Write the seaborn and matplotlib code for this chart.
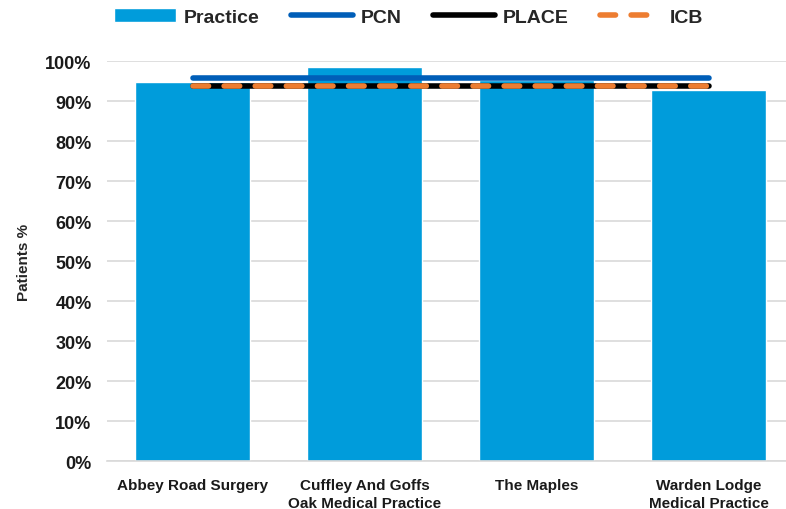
import numpy as np
import pandas as pd
import matplotlib
matplotlib.use("Agg")
import matplotlib.pyplot as plt
import seaborn as sns
from matplotlib.patches import Patch
from matplotlib.lines import Line2D
from matplotlib.ticker import PercentFormatter

sns.set_theme(style="white")
plt.rcParams["font.family"] = ["Liberation Sans", "DejaVu Sans"]

practices = ["Abbey Road Surgery", "Cuffley And Goffs\nOak Medical Practice",
             "The Maples", "Warden Lodge\nMedical Practice"]
practice_pct = [0.947, 0.986, 0.952, 0.928]
pcn_pct = 0.957
place_pct = 0.939
icb_pct = 0.937

bar_color = "#009CDB"
pcn_color = "#005EB8"
place_color = "#000000"
icb_color = "#ED7D31"

df = pd.DataFrame({"practice": practices, "pct": practice_pct})
x = np.arange(len(practices))

fig = plt.figure(figsize=(7.86, 5.10), dpi=100)
ax = fig.add_axes([0.136, 0.094, 0.864, 0.784])

sns.barplot(data=df, x="practice", y="pct", color=bar_color, saturation=1,
            width=0.67, ax=ax)

sns.lineplot(x=x, y=[pcn_pct] * len(x), color=pcn_color, lw=4,
             solid_capstyle="round", ax=ax)
sns.lineplot(x=x, y=[place_pct] * len(x), color=place_color, lw=4,
             solid_capstyle="round", ax=ax)
ax.plot(x, [icb_pct] * len(x), color=icb_color, lw=4,
        dashes=(2.8, 2.8), dash_capstyle="round")

ax.set_xlim(-0.5, 3.45)
ax.set_ylim(0, 1.0)
ax.set_yticks(np.arange(0, 1.01, 0.1))
ax.yaxis.set_major_formatter(PercentFormatter(1.0, decimals=0))
ax.grid(axis="y", color="#d9d9d9", lw=1.2)
ax.set_axisbelow(True)
for s in ["top", "right", "left"]:
    ax.spines[s].set_visible(False)
ax.spines["bottom"].set_color("#d9d9d9")
ax.spines["bottom"].set_linewidth(1.2)

ax.set_xlabel("")
ax.set_ylabel("Patients %", fontsize=11, fontweight="bold", labelpad=10)
ax.tick_params(axis="y", labelsize=13, pad=11, length=0)
ax.tick_params(axis="x", labelsize=11, pad=12, length=0)
for t in ax.get_yticklabels() + ax.get_xticklabels():
    t.set_fontweight("bold")
    t.set_color("#1a1a1a")
for t in ax.get_xticklabels():
    t.set_linespacing(1.35)

handles = [
    Patch(facecolor=bar_color, label="Practice"),
    Line2D([0], [0], color=pcn_color, lw=4, solid_capstyle="round", label="PCN"),
    Line2D([0], [0], color=place_color, lw=4, solid_capstyle="round", label="PLACE"),
    Line2D([0], [0], color=icb_color, lw=4, dashes=(2.8, 2.8),
           dash_capstyle="round", label="ICB"),
]
fig.legend(handles=handles, loc="center", bbox_to_anchor=(0.52, 0.965), ncol=4,
           frameon=False, prop={"size": 14, "weight": "bold"},
           handlelength=3.2, columnspacing=1.6, handletextpad=0.4)

fig.savefig("out.png", dpi=100)
